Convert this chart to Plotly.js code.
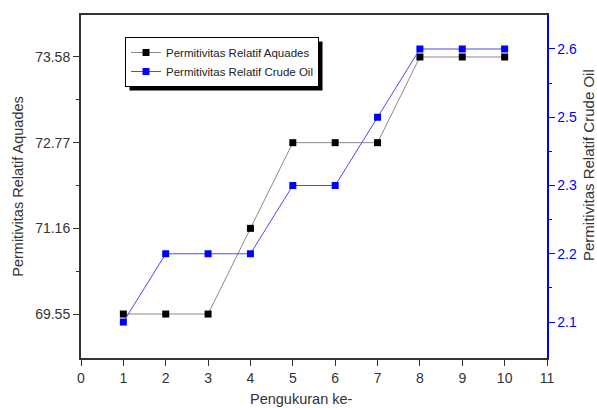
<!DOCTYPE html>
<html>
<head>
<meta charset="utf-8">
<script src="https://cdn.plot.ly/plotly-3.0.1.min.js"></script>
<style>html,body{margin:0;padding:0;background:#fff;}#chart{width:597px;height:408px;}</style>
</head>
<body>
<div id="chart"></div>
<script>
// Data
const measurement = [1, 2, 3, 4, 5, 6, 7, 8, 9, 10];
const aquades = [69.55, 69.55, 69.55, 71.16, 72.77, 72.77, 72.77, 73.58, 73.58, 73.58];
const crudeOil = [2.1, 2.2, 2.2, 2.2, 2.3, 2.3, 2.5, 2.6, 2.6, 2.6];
const aquadesTicks = ['69.55', '71.16', '72.77', '73.58'];
const crudeTicks = ['2.1', '2.2', '2.3', '2.5', '2.6'];
const xTicks = [0, 1, 2, 3, 4, 5, 6, 7, 8, 9, 10, 11];

const FONT = 'Liberation Sans, Arial, sans-serif';
const AXC = '#333333';
const BLUE = '#0000ff';

const L = 81, R = 547, T = 15, B = 358, W = 597, H = 408;
const px = v => (v - L) / (R - L);
const py = v => (B - v) / (B - T);

const leftRange = [-0.513, 3.49];
const rightRange = [-0.527, 4.498];

const traces = [
  {
    x: measurement, y: aquades.map(v => v.toFixed(2)),
    name: 'Permitivitas Relatif Aquades', type: 'scatter', mode: 'lines+markers',
    line: {color: '#8a8a8a', width: 1},
    marker: {symbol: 'square', size: 7, color: '#000000'},
    xaxis: 'x', yaxis: 'y'
  },
  {
    x: measurement, y: crudeOil.map(v => String(v)),
    name: 'Permitivitas Relatif Crude Oil', type: 'scatter', mode: 'lines+markers',
    line: {color: '#4b4bf0', width: 1},
    marker: {symbol: 'square', size: 7, color: BLUE},
    xaxis: 'x', yaxis: 'y2'
  },
  {x: [null], y: [null], yaxis: 'y3', showlegend: false, hoverinfo: 'skip', mode: 'markers'},
  {x: [null], y: [null], yaxis: 'y4', showlegend: false, hoverinfo: 'skip', mode: 'markers'}
];

const layout = {
  width: W, height: H,
  margin: {l: L, r: W - R, t: T, b: H - B, pad: 0},
  paper_bgcolor: '#ffffff', plot_bgcolor: '#ffffff',
  font: {family: FONT, size: 14, color: AXC},
  showlegend: true,
  legend: {
    x: px(125), y: py(62), xanchor: 'left', yanchor: 'middle',
    bgcolor: '#ffffff', bordercolor: '#000000', borderwidth: 1,
    font: {family: FONT, size: 11.5, color: '#222222'},
    tracegroupgap: 0, itemwidth: 30
  },
  shapes: [
    {type: 'rect', xref: 'paper', yref: 'paper',
     x0: px(130), x1: px(325), y0: py(91), y1: py(40),
     fillcolor: '#000000', line: {width: 0}, layer: 'above'}
  ],
  annotations: [
    {text: 'Pengukuran ke-', xref: 'paper', yref: 'paper', x: px(301), y: py(398.5),
     xanchor: 'center', yanchor: 'middle', showarrow: false,
     font: {family: FONT, size: 14.5, color: AXC}},
    {text: 'Permitivitas Relatif Crude Oil', xref: 'paper', yref: 'paper', x: px(588), y: py(165),
     xanchor: 'center', yanchor: 'middle', showarrow: false, textangle: -90,
     font: {family: FONT, size: 15, color: AXC}}
  ],
  xaxis: {
    range: [0, 11], tickvals: xTicks, ticktext: xTicks.map(String),
    showgrid: false, zeroline: false,
    showline: true, linecolor: AXC, linewidth: 2, mirror: true,
    ticks: 'outside', ticklen: 6, tickcolor: AXC, tickwidth: 1,
    tickfont: {family: FONT, size: 14, color: AXC}
  },
  yaxis: {
    type: 'category', categoryorder: 'array', categoryarray: aquadesTicks,
    range: leftRange,
    showgrid: false, zeroline: false,
    showline: true, linecolor: AXC, linewidth: 2,
    ticks: 'outside', ticklen: 6, tickcolor: AXC, tickwidth: 1,
    tickfont: {family: FONT, size: 14, color: AXC},
    title: {text: 'Permitivitas Relatif Aquades', font: {family: FONT, size: 14.5, color: AXC}, standoff: 8}
  },
  yaxis2: {
    type: 'category', categoryorder: 'array', categoryarray: crudeTicks,
    range: rightRange, overlaying: 'y', side: 'right',
    showgrid: false, zeroline: false,
    showline: true, linecolor: BLUE, linewidth: 1.5,
    ticks: 'outside', ticklen: 6, tickcolor: BLUE, tickwidth: 1,
    tickfont: {family: FONT, size: 14, color: BLUE}
  },
  yaxis3: {
    overlaying: 'y', side: 'left', range: leftRange,
    tickmode: 'array', tickvals: [0.5, 1.5, 2.5],
    showticklabels: false, showgrid: false, zeroline: false, showline: false,
    ticks: 'outside', ticklen: 4, tickcolor: AXC, tickwidth: 1
  },
  yaxis4: {
    overlaying: 'y', side: 'right', range: rightRange,
    tickmode: 'array', tickvals: [0.5, 1.5, 2.5, 3.5],
    showticklabels: false, showgrid: false, zeroline: false, showline: false,
    ticks: 'outside', ticklen: 4, tickcolor: BLUE, tickwidth: 1
  }
};

Plotly.newPlot('chart', traces, layout, {displayModeBar: false, staticPlot: true}).then(gd => {
  // align shadow to the rendered legend box (offset 4px right/down)
  const bg = gd.querySelector('.legend .bg');
  if (bg) {
    const r = bg.getBoundingClientRect();
    const c = gd.getBoundingClientRect();
    const x0 = r.left - c.left + 4, x1 = r.right - c.left + 4;
    const y0 = r.bottom - c.top + 4, y1 = r.top - c.top + 4;
    Plotly.relayout(gd, {
      'shapes[0].x0': px(x0), 'shapes[0].x1': px(x1),
      'shapes[0].y0': py(y0), 'shapes[0].y1': py(y1)
    });
  }
});
</script>
</body>
</html>
